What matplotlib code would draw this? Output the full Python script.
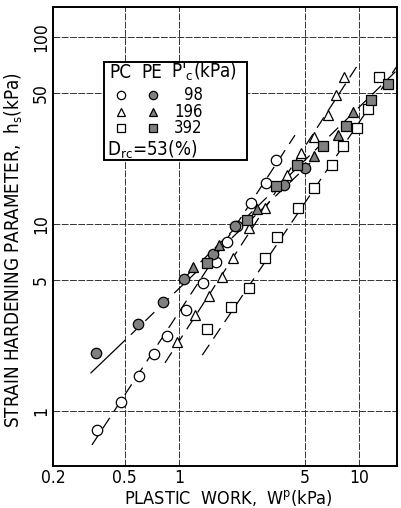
import matplotlib
matplotlib.use('Agg')
import matplotlib.pyplot as plt
from matplotlib.patches import Rectangle

plt.rcParams['font.family'] = ['DejaVu Sans']
plt.rcParams['font.stretch'] = 'condensed'
plt.rcParams['mathtext.fontset'] = 'dejavusans'

# PC (open) and PE (filled) data
pc98_w = [0.351, 0.477, 0.601, 0.728, 0.86, 1.096, 1.36, 1.61, 1.85, 2.10, 2.52, 3.05, 3.47]
pc98_h = [0.79, 1.12, 1.54, 2.02, 2.52, 3.47, 4.84, 6.26, 8.01, 9.8, 12.9, 16.6, 22.0]

pc196_w = [0.978, 1.23, 1.47, 1.74, 2.0, 2.45, 3.01, 3.99, 4.78, 5.64, 6.74, 7.46, 8.28]
pc196_h = [2.34, 3.26, 4.12, 5.21, 6.58, 9.52, 12.2, 18.3, 24.0, 29.2, 38.3, 49.0, 61.1]

pc392_w = [1.43, 1.95, 2.45, 3.01, 3.51, 4.59, 5.64, 7.10, 8.17, 9.78, 11.2, 12.9]
pc392_h = [2.75, 3.60, 4.55, 6.58, 8.52, 12.2, 15.6, 20.7, 26.1, 32.6, 41.2, 61.1]

pe98_w = [0.347, 0.593, 0.817, 1.07, 1.55, 2.05, 3.84, 5.02]
pe98_h = [2.04, 2.92, 3.83, 5.08, 6.91, 9.76, 16.2, 19.9]

pe196_w = [1.20, 1.67, 2.72, 5.64, 7.66, 9.28]
pe196_h = [5.89, 7.72, 12.0, 23.1, 29.9, 39.7]

pe392_w = [1.43, 2.39, 3.47, 4.54, 6.32, 8.49, 11.7, 14.5]
pe392_h = [6.19, 10.5, 16.0, 20.7, 26.1, 33.4, 46.0, 56.1]

# fitted lines (end points)
fit_lines = [
    ([0.329, 4.42], [0.658, 29.9]),   # PC 98
    ([0.838, 9.77], [1.81, 70.0]),    # PC 196
    ([1.35, 16.3], [1.99, 70.0]),     # PC 392
    ([0.45, 5.36], [2.16, 21.2]),     # PE 98
    ([1.10, 16.3], [5.27, 66.6]),     # PE 196 / 392
]
pe98_solid = ([0.325, 0.45], [1.60, 2.16])

xticks = [0.2, 0.5, 1, 5, 10]
xticklabels = ['0.2', '0.5', '1', '5', '10']
yticks = [1, 5, 10, 50, 100]
yticklabels = ['1', '5', '10', '50', '100']

fig = plt.figure(figsize=(4.01, 5.08), dpi=100)
ax = fig.add_axes([53 / 401, 42 / 508, 344 / 401, 459 / 508])
ax.set_xscale('log')
ax.set_yscale('log')
ax.set_xlim(0.2, 16.3)
ax.set_ylim(0.508, 145)

fs = 13.5
ax.set_xticks(xticks)
ax.set_xticklabels(xticklabels)
ax.set_yticks(yticks)
ax.set_yticklabels(yticklabels, rotation=90, va='center')
ax.minorticks_off()
ax.tick_params(length=0, labelsize=12.5, pad=2)
ax.grid(True, color='0.2', lw=0.7, ls=(0, (7, 1.5)))
for s in ax.spines.values():
    s.set_linewidth(1.4)

dash = (0, (10, 6))
for xs, ys in fit_lines:
    ax.plot(xs, ys, color='k', lw=0.9, ls=dash, zorder=2)
ax.plot(pe98_solid[0], pe98_solid[1], color='k', lw=0.9, zorder=2)

ms = 7.5
gray = '#808080'
ax.plot(pc98_w, pc98_h, 'o', ms=ms, mfc='white', mec='k', mew=0.9, zorder=3)
ax.plot(pc196_w, pc196_h, '^', ms=ms, mfc='white', mec='k', mew=0.9, zorder=3)
ax.plot(pc392_w, pc392_h, 's', ms=ms, mfc='white', mec='k', mew=0.9, zorder=3)
ax.plot(pe98_w, pe98_h, 'o', ms=ms, mfc=gray, mec='k', mew=0.9, zorder=3)
ax.plot(pe196_w, pe196_h, '^', ms=ms, mfc=gray, mec='k', mew=0.9, zorder=3)
ax.plot(pe392_w, pe392_h, 's', ms=ms, mfc=gray, mec='k', mew=0.9, zorder=3)

# legend box
lfs = 12
ax.add_patch(Rectangle((0.148, 0.667), 0.416, 0.213, transform=ax.transAxes,
                       facecolor='white', edgecolor='k', lw=1.4, zorder=4))
ax.text(0.165, 0.858, 'PC', transform=ax.transAxes, fontsize=fs, va='center', zorder=5)
ax.text(0.256, 0.858, 'PE', transform=ax.transAxes, fontsize=fs, va='center', zorder=5)
ax.text(0.342, 0.858, r"P$'_\mathrm{c}$(kPa)", transform=ax.transAxes,
        fontsize=fs, va='center', zorder=5)
rows = [(0.809, 'o', '98'), (0.772, '^', '196'), (0.736, 's', '392')]
for y, m, lab in rows:
    ax.plot([0.198], [y], m, ms=6, mfc='white', mec='k', mew=0.9,
            transform=ax.transAxes, zorder=5)
    ax.plot([0.291], [y], m, ms=6, mfc=gray, mec='k', mew=0.9,
            transform=ax.transAxes, zorder=5)
    ax.text(0.435, y, lab, transform=ax.transAxes, fontsize=lfs, va='center',
            ha='right', zorder=5)
ax.text(0.158, 0.688, r'D$_\mathrm{rc}$=53(%)', transform=ax.transAxes,
        fontsize=fs, va='center', zorder=5)

ax.set_xlabel(r'PLASTIC  WORK,  W$^\mathrm{p}$(kPa)', fontsize=13)
ax.xaxis.set_label_coords(0.509, -0.047)
ax.set_ylabel(r'STRAIN HARDENING PARAMETER,  h$_\mathrm{s}$(kPa)', fontsize=fs)
ax.yaxis.set_label_coords(-0.08, 0.47)

fig.savefig('out.png', dpi=100)
